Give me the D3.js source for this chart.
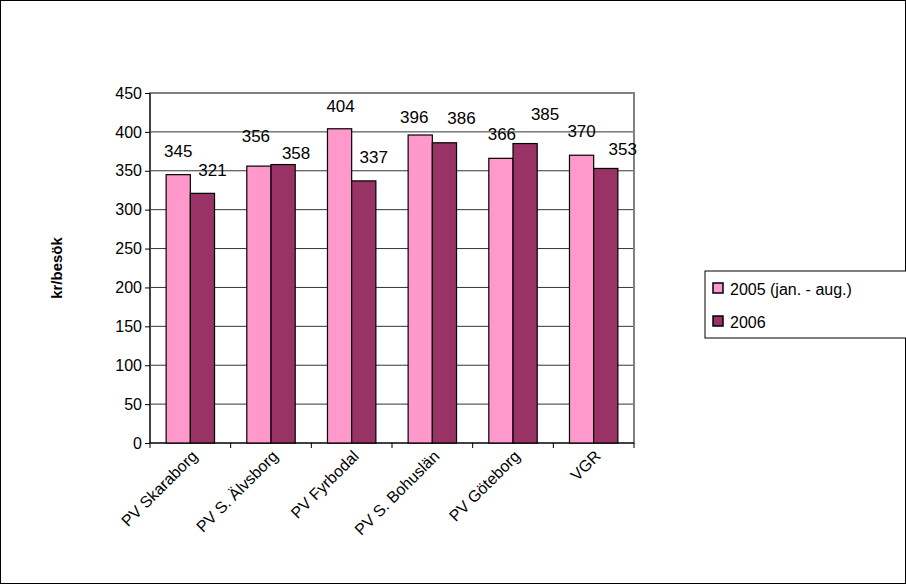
<!DOCTYPE html>
<html><head><meta charset="utf-8">
<script src="https://cdn.jsdelivr.net/npm/d3@7"></script>
<style>body{margin:0;background:#fff}text{font-family:"Liberation Sans",Arial,sans-serif}</style>
</head><body><svg id="c" width="906" height="584"></svg>
<script>
const categories = ['PV Skaraborg','PV S. Älvsborg','PV Fyrbodal','PV S. Bohuslän','PV Göteborg','VGR'];
const series = ['2005 (jan. - aug.)','2006'];
const v2005 = [345,356,404,396,366,370];
const v2006 = [321,358,337,386,385,353];
const colors = ['#FF99CC','#993366'];
const yTicks = d3.range(0,451,50);
// label nudges (px) as placed in the original, [dx, dy] from bar top centre
const nudge = [
  [[0,-18],[-3,-24],[1,-17],[-6,-12],[1,-18],[0,-18]],
  [[10,-17],[13,-6],[10,-18],[17,-19],[20,-24],[17,-13]]
];

const svg = d3.select('#c');
svg.append('rect').attr('x',0.5).attr('y',0.5).attr('width',905).attr('height',583).attr('fill','#fff').attr('stroke','#000');

const L=150,R=634,T=93,B=443;
const x = d3.scaleBand().domain(categories).range([L,R]);
const y = d3.scaleLinear().domain([0,450]).range([B,T]);

const g = svg.append('g');
yTicks.forEach(t=>{
  g.append('line').attr('x1',L).attr('x2',R).attr('y1',y(t)).attr('y2',y(t)).attr('stroke','#000').attr('stroke-width',t===0?1:0.8);
});
g.append('rect').attr('x',L).attr('y',T).attr('width',R-L).attr('height',B-T).attr('fill','none').attr('stroke','#808080').attr('stroke-width',2);
g.append('line').attr('x1',L).attr('x2',L).attr('y1',T).attr('y2',B).attr('stroke','#000');
g.append('line').attr('x1',L).attr('x2',R).attr('y1',B).attr('y2',B).attr('stroke','#000');

const yAxis = d3.axisLeft(y).tickValues(yTicks).tickSize(5).tickSizeOuter(0);
const ya = svg.append('g').attr('transform',`translate(${L},0)`).call(yAxis);
ya.select('.domain').remove();
ya.selectAll('text').attr('font-size',16).attr('fill','#000').attr('font-family','Liberation Sans, Arial');

const xAxis = d3.axisBottom(x).tickSize(0);
const xa = svg.append('g').attr('transform',`translate(0,${B})`).call(xAxis);
xa.select('.domain').remove();
xa.selectAll('text').attr('font-size',16).attr('fill','#000').attr('font-family','Liberation Sans, Arial')
  .attr('text-anchor','end').attr('dx',0).attr('dy',0)
  .attr('transform','translate(6,12) rotate(-45)');
categories.concat(['']).forEach((c,i)=>{
  const xx = L + i*x.bandwidth();
  svg.append('line').attr('x1',xx).attr('x2',xx).attr('y1',B).attr('y2',B+5).attr('stroke','#000');
});

const bw = x.bandwidth()*0.3;
[v2005,v2006].forEach((vals,s)=>{
  categories.forEach((c,i)=>{
    const bx = x(c)+x.bandwidth()*0.2+s*bw;
    svg.append('rect').attr('x',bx).attr('y',y(vals[i])).attr('width',bw).attr('height',B-y(vals[i]))
      .attr('fill',colors[s]).attr('stroke','#000').attr('stroke-width',1.2);
    svg.append('text').attr('x',bx+bw/2+nudge[s][i][0]).attr('y',y(vals[i])+nudge[s][i][1])
      .attr('text-anchor','middle').attr('font-size',17).text(vals[i]);
  });
});

svg.append('text').attr('transform',`translate(62,${(T+B)/2}) rotate(-90)`).attr('text-anchor','middle')
  .attr('font-size',15).attr('font-weight','bold').text('kr/besök');

const lg = svg.append('g');
lg.append('rect').attr('x',705).attr('y',271).attr('width',210).attr('height',67).attr('fill','#fff').attr('stroke','#000');
series.forEach((s,i)=>{
  lg.append('rect').attr('x',713).attr('y',283+i*33).attr('width',10).attr('height',10).attr('fill',colors[i]).attr('stroke','#000').attr('stroke-width',1.5);
  lg.append('text').attr('x',730).attr('y',295+i*33).attr('font-size',16).text(s);
});
</script></body></html>
